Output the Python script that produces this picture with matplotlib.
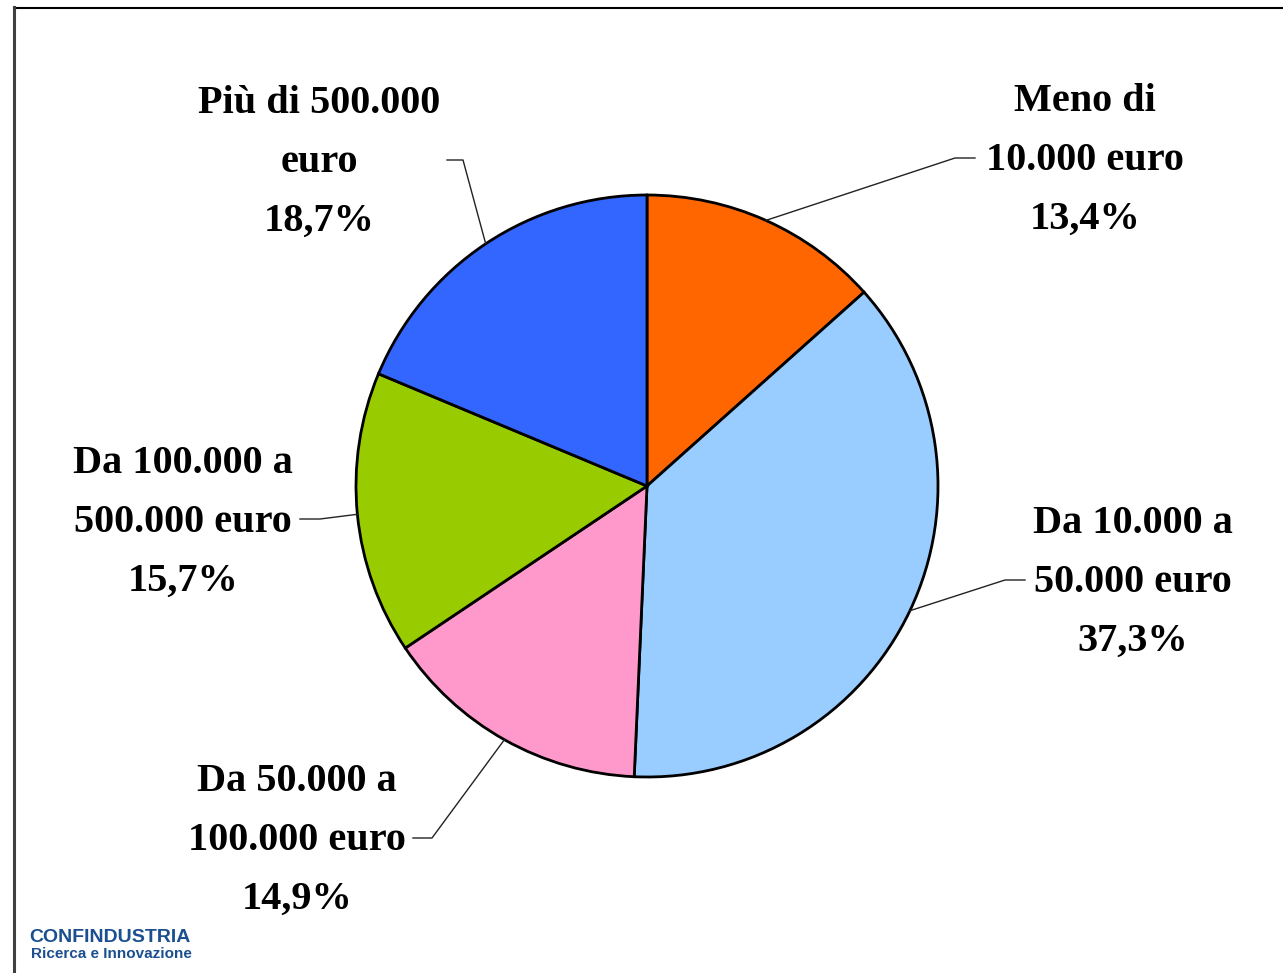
import numpy as np
import matplotlib
matplotlib.use('Agg')
import matplotlib.pyplot as plt
from matplotlib.lines import Line2D

# data
categories = ['Meno di\n10.000 euro', 'Da 10.000 a\n50.000 euro', 'Da 50.000 a\n100.000 euro',
              'Da 100.000 a\n500.000 euro', 'Più di 500.000\neuro']
values = [13.4, 37.3, 14.9, 15.7, 18.7]
colors = ['#FF6600', '#99CCFF', '#FF99CC', '#99CC00', '#3366FF']

# layout (pixel coords, y down)
W, H = 1283, 973
center = (647, 486)
radius = 291
label_pos = [(1085, 160), (1133, 582), (297, 840), (183, 522), (319, 162)]
elbows = [[(955, 158), (975, 158)], [(1005, 580), (1025, 580)], [(432, 838), (413, 838)],
          [(320, 519), (300, 519)], [(463, 160), (447, 160)]]

fig = plt.figure(figsize=(W / 100, H / 100), dpi=100)
ax = fig.add_axes([0, 0, 1, 1])

# y axis is inverted, so start at -90 and go counterclockwise in data coords
wedges, _ = ax.pie(values, colors=colors, startangle=-90, counterclock=True,
                   center=center, radius=radius, frame=True,
                   wedgeprops=dict(edgecolor='black', linewidth=2))
ax.set_xlim(0, W)
ax.set_ylim(H, 0)
ax.set_aspect('equal')
ax.axis('off')

fnt = dict(family=['Liberation Serif', 'DejaVu Serif'], weight='bold', fontsize=29)
for i, w in enumerate(wedges):
    mid = np.deg2rad((w.theta1 + w.theta2) / 2)
    p = (center[0] + radius * np.cos(mid), center[1] + radius * np.sin(mid))
    xs = [p[0]] + [e[0] for e in elbows[i]]
    ys = [p[1]] + [e[1] for e in elbows[i]]
    ax.plot(xs, ys, color='#222222', lw=1, zorder=1)
    txt = categories[i] + '\n' + ('%.1f%%' % values[i]).replace('.', ',')
    ax.text(label_pos[i][0], label_pos[i][1], txt, ha='center', va='center',
            linespacing=1.78, **fnt)

# frame lines
fig.add_artist(Line2D([14 / W, 1], [1 - 7.5 / H, 1 - 7.5 / H], color='black', lw=1.5))
fig.add_artist(Line2D([14 / W, 14 / W], [0, 1 - 7 / H], color='#404040', lw=2.2))

# logo
ax.text(29, 937, 'CONFINDUSTRIA', color='#1B4F8F', fontsize=14, weight='bold',
        family=['Liberation Sans', 'DejaVu Sans'], va='center', ha='left')
ax.text(31, 954, 'Ricerca e Innovazione', color='#1B4F8F', fontsize=11, weight='bold',
        family=['Liberation Sans Narrow', 'Liberation Sans'], va='center', ha='left')

fig.savefig('out.png', dpi=100)
